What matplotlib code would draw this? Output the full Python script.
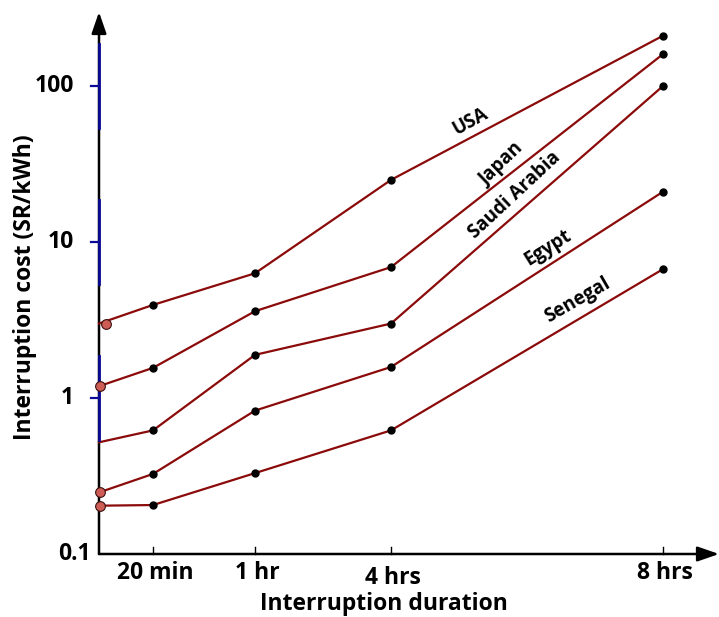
import matplotlib
matplotlib.use("Agg")
import matplotlib.pyplot as plt
from matplotlib.transforms import blended_transform_factory

plt.rcParams['font.family'] = ['Open Sans', 'DejaVu Sans']
plt.rcParams['font.weight'] = 'bold'

# ---- data ----
countries = ["USA", "Japan", "Saudi Arabia", "Egypt", "Senegal"]
duration_labels = ["20 min", "1 hr", "4 hrs", "8 hrs"]
duration_x = [54, 156, 292, 564]          # position of each duration on the x axis
start_x = [0, 0, 0, 0, 0]                 # lines start on the vertical axis
start_marker_x = [7, 1, None, 1, 1]       # first (light) marker positions
start_values = [3.0, 1.19, 0.52, 0.248, 0.204]
usa = [3.95, 6.3, 25.0, 210]
japan = [1.56, 3.6, 6.9, 160]
saudi = [0.62, 1.89, 3.0, 100]
egypt = [0.326, 0.83, 1.58, 21]
senegal = [0.206, 0.33, 0.62, 6.7]
series = [usa, japan, saudi, egypt, senegal]
ytick_values = [0.1, 1, 10, 100]
ytick_labels = ["0.1", "1", "10", "100"]

# label placement (x, y in data, rotation)
label_pos = [(371, 58.8, 29), (403, 31.2, 44), (416, 20, 43), (449, 9.2, 32), (479, 4.25, 30)]

line_color = "#8b0a0a"
FS = 16.5

fig = plt.figure(figsize=(7.19, 6.17), dpi=100)
ax = fig.add_axes([99 / 719, 63 / 617, 620 / 719, 542 / 617])
ax.set_yscale("log")
ax.set_xlim(0, 620)
ax.set_ylim(0.1, 298)
for s in ax.spines.values():
    s.set_visible(False)
ax.set_xticks([])
ax.set_yticks([])
ax.minorticks_off()

for i, vals in enumerate(series):
    xs = [start_x[i]] + duration_x
    ys = [start_values[i]] + vals
    ax.plot(xs, ys, color=line_color, lw=1.6, zorder=3, clip_on=False)
    ax.plot(duration_x, vals, 'o', color='black', ms=5, zorder=4, clip_on=False)
    if start_marker_x[i] is not None:
        ax.plot([start_marker_x[i]], [start_values[i]], 'o', color='#cd5c55',
                mec='#3a1010', mew=0.8, ms=7, zorder=8, clip_on=False)
    lx, ly, rot = label_pos[i]
    ax.text(lx, ly, countries[i], rotation=rot, rotation_mode='anchor',
            ha='center', va='center', fontsize=13.5, fontweight='bold', color='black')

# axes with arrows
ax.annotate("", xy=(0, 1.0), xycoords='axes fraction', xytext=(0, 0),
            arrowprops=dict(arrowstyle='-|>,head_length=1.3,head_width=0.45',
                            color='black', lw=1.8, shrinkA=0, shrinkB=0), zorder=1)
ax.annotate("", xy=(1.0, 0), xycoords='axes fraction', xytext=(0, 0),
            arrowprops=dict(arrowstyle='-|>,head_length=1.3,head_width=0.45',
                            color='black', lw=1.8, shrinkA=0, shrinkB=0), zorder=1)

# blue segments on y axis and y ticks
trans_y = blended_transform_factory(ax.transAxes, ax.transData)
for v, lab in zip(ytick_values, ytick_labels):
    if v > 0.1:
        ax.plot([0, 0], [v / 1.85, v * 1.85], color='#0a0a96', lw=2.0, zorder=6,
                transform=trans_y, clip_on=False)
        ax.plot([-0.013, 0], [v, v], color='#0a0a96', lw=1.6, zorder=6,
                transform=trans_y, clip_on=False)
        ax.text(-0.04, v, lab, transform=trans_y, ha='right', va='center',
                fontsize=FS, fontweight='bold')
    else:
        ax.text(-0.014, v, lab, transform=trans_y, ha='right', va='center',
                fontsize=FS, fontweight='bold')

# x ticks (pointing up) and labels
trans_x = blended_transform_factory(ax.transData, ax.transAxes)
for x, lab in zip(duration_x, duration_labels):
    ax.plot([x, x], [0, 0.013], color='black', lw=1.0, transform=trans_x, clip_on=False)
    dy = -0.045 if lab == "4 hrs" else -0.035
    ax.text(x + 2, dy, lab, transform=trans_x, ha='center', va='center',
            fontsize=FS, fontweight='bold')

fig.text(384 / 719, 1 - 604 / 617, "Interruption duration", ha='center', va='center',
         fontsize=FS, fontweight='bold')
fig.text(25 / 719, 1 - 287 / 617, "Interruption cost (SR/kWh)", ha='center', va='center',
         rotation=90, fontsize=FS, fontweight='bold')

fig.savefig("out.png", dpi=100)
